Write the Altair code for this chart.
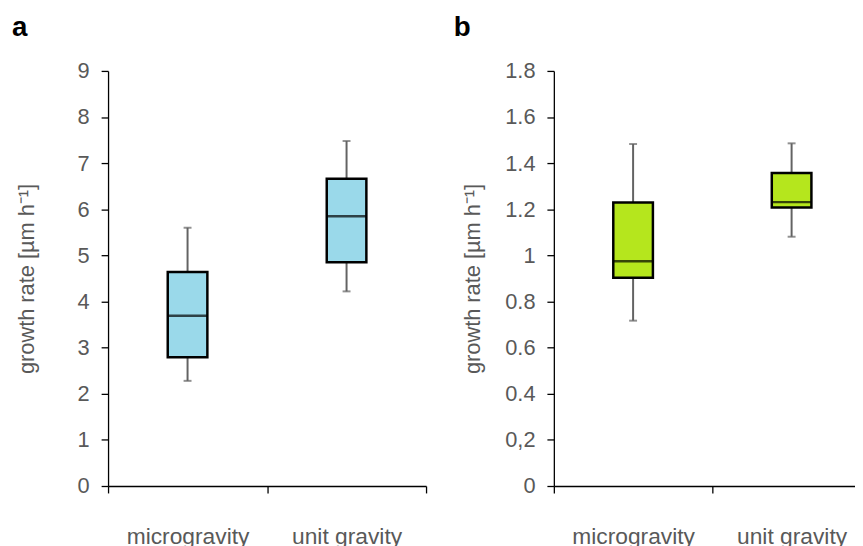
import altair as alt
import pandas as pd

categories = ["microgravity", "unit gravity"]

# panel a (growth rate, µm h-1)
a_low = [2.28, 4.22]
a_q1 = [2.79, 4.85]
a_med = [3.69, 5.85]
a_q3 = [4.64, 6.66]
a_high = [5.60, 7.48]
a_ticks = [0, 1, 2, 3, 4, 5, 6, 7, 8, 9]
a_labels = ["0", "1", "2", "3", "4", "5", "6", "7", "8", "9"]

# panel b
b_low = [0.717, 1.081]
b_q1 = [0.903, 1.208]
b_med = [0.975, 1.231]
b_q3 = [1.229, 1.357]
b_high = [1.483, 1.486]
b_ticks = [0, 0.2, 0.4, 0.6, 0.8, 1.0, 1.2, 1.4, 1.6, 1.8]
b_labels = ["0", "0,2", "0.4", "0.6", "0.8", "1", "1.2", "1.4", "1.6", "1.8"]

FONT = "Liberation Sans, Arial, sans-serif"
GREY = "#595959"
WHISKER = "#636363"
H = 419


def label_expr(ticks, labels):
    parts = []
    for t, l in zip(ticks, labels):
        parts.append(f"abs(datum.value - {t}) < 1e-6 ? '{l}' : ")
    return "".join(parts) + "''"


def panel(low, q1, med, q3, high, ticks, labels, ymax, fill, letter, letter_dx, width):
    df = pd.DataFrame({"cat": categories, "low": low, "q1": q1, "med": med,
                       "q3": q3, "high": high})
    yscale = alt.Scale(domain=[0, ymax], nice=False, zero=True)
    x = alt.X("cat:N", sort=categories,
              scale=alt.Scale(paddingInner=0, paddingOuter=0),
              axis=alt.Axis(title=None, tickBand="extent", tickSize=7,
                            labelPadding=33, labelFontSize=23, labelColor=GREY,
                            labelFont=FONT, labelAngle=0, domainColor="black",
                            tickColor="black", domainWidth=1.3, tickWidth=1.3,
                            labelBaseline="top"))
    yaxis = alt.Axis(values=ticks, labelExpr=label_expr(ticks, labels),
                     tickSize=7, labelPadding=12, labelFontSize=22,
                     labelColor=GREY, labelFont=FONT, grid=False,
                     domainColor="black", tickColor="black", domainWidth=1.3,
                     tickWidth=1.3, labelFlush=False,
                     title="growth rate [µm h⁻¹]", titleFontSize=22,
                     titleFont=FONT, titleFontWeight="normal", titleColor=GREY,
                     titleX=-82, titleY=H / 2, titleAngle=-90,
                     titleAlign="center", titleBaseline="middle")
    base = alt.Chart(df).encode(x=x)
    whisk_lo = base.mark_rule(color=WHISKER, strokeWidth=2).encode(
        y=alt.Y("low:Q", scale=yscale, axis=yaxis), y2="q1:Q")
    whisk_hi = base.mark_rule(color=WHISKER, strokeWidth=2).encode(
        y=alt.Y("q3:Q", scale=yscale), y2="high:Q")
    cap_lo = base.mark_tick(size=8, thickness=2, color=WHISKER).encode(
        y=alt.Y("low:Q", scale=yscale))
    cap_hi = base.mark_tick(size=8, thickness=2, color=WHISKER).encode(
        y=alt.Y("high:Q", scale=yscale))
    box = base.mark_bar(size=40, fill=fill, stroke="black", strokeWidth=2.5).encode(
        y=alt.Y("q1:Q", scale=yscale), y2="q3:Q")
    median = base.mark_tick(size=40, thickness=2.5, color="black").encode(
        y=alt.Y("med:Q", scale=yscale))
    tag = alt.Chart(pd.DataFrame({"t": [letter]})).mark_text(
        font=FONT, fontSize=28, fontWeight="bold", color="black",
        align="left", baseline="alphabetic").encode(
        text="t:N", x=alt.value(letter_dx), y=alt.value(-35))
    return alt.layer(whisk_lo, whisk_hi, cap_lo, cap_hi, box, median, tag).properties(
        width=width, height=H)


pa = panel(a_low, a_q1, a_med, a_q3, a_high, a_ticks, a_labels, 9,
           "#9ad9ea", "a", -97, 321)
pb = panel(b_low, b_q1, b_med, b_q3, b_high, b_ticks, b_labels, 1.8,
           "#b5e61d", "b", -101, 320)

chart = alt.hconcat(pa, pb, spacing=27).properties(
    autosize=alt.AutoSizeParams(type="none"),
    padding={"left": 101, "top": 59, "right": 754, "bottom": 479}
).configure(font=FONT).configure_view(stroke=None)

chart.save("out.html", embed_options={"renderer": "svg", "actions": False})
